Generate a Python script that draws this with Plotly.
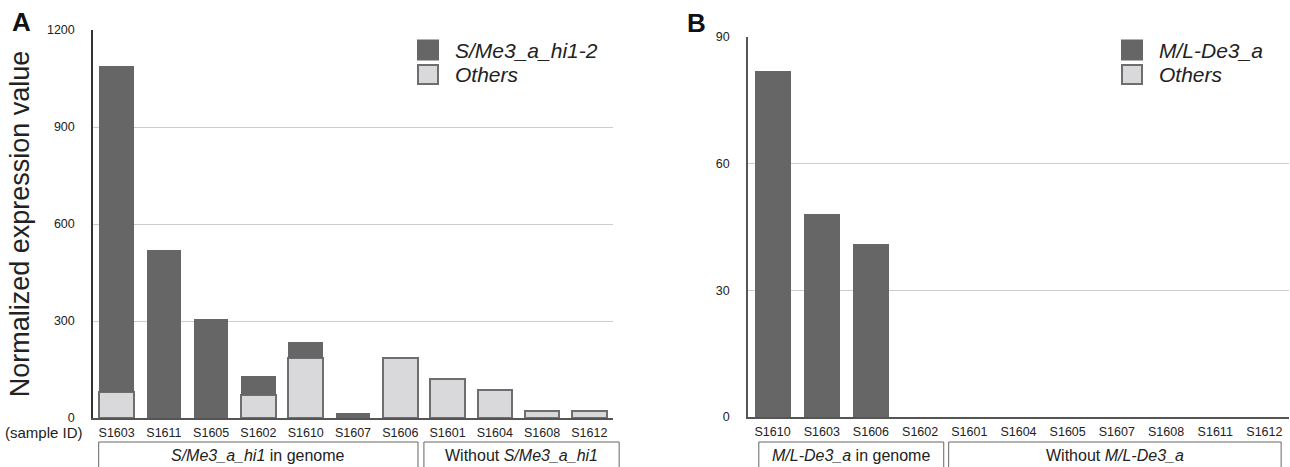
import plotly.graph_objects as go

# ---------------- data ----------------
samples_A = ["S1603", "S1611", "S1605", "S1602", "S1610", "S1607",
             "S1606", "S1601", "S1604", "S1608", "S1612"]
gene_A = [1010, 520, 306, 59, 49, 15, 0, 0, 0, 0, 0]      # S/Me3_a_hi1-2 portion
others_A = [80, 0, 0, 71, 186, 0, 185, 120, 86, 21, 21]   # Others portion

samples_B = ["S1610", "S1603", "S1606", "S1602", "S1601", "S1604",
             "S1605", "S1607", "S1608", "S1611", "S1612"]
gene_B = [82, 48, 41, 0, 0, 0, 0, 0, 0, 0, 0]              # M/L-De3_a
others_B = [0, 0, 0, 0, 0, 0, 0, 0, 0, 0, 0]

# groups: (label, first index, last index)
groups_A = [("<i>S/Me3_a_hi1</i> in genome", 0, 6), ("Without <i>S/Me3_a_hi1</i>", 7, 10)]
groups_B = [("<i>M/L-De3_a</i> in genome", 0, 2), ("Without <i>M/L-De3_a</i>", 3, 10)]

name_gene_A = "S/Me3_a_hi1-2"
name_gene_B = "M/L-De3_a"
name_others = "Others"
y_title = "Normalized expression value"

# ---------------- style ----------------
W, H = 1290, 467
FONT = "Liberation Sans, Arial, sans-serif"
DARK = "#666666"
LIGHT = "#d9d9db"
LIGHT_EDGE = "#6e6e6e"
GRID = "#cccccc"
TXT = "#222222"

def px(x):
    return x / W

def py(y):
    return 1 - y / H

def nz(values):
    # zero-height segments are not drawn
    return [v if v else None for v in values]

domA_x = [px(93), px(613)]
domA_y = [py(418), py(30)]
domB_x = [px(748), px(1289)]
domB_y = [py(417), py(36.7)]

fig = go.Figure()

fig.add_trace(go.Bar(x=samples_A, y=nz(others_A), name=name_others, xaxis="x", yaxis="y",
                     marker=dict(color=LIGHT, line=dict(color=LIGHT_EDGE, width=2)),
                     showlegend=False))
fig.add_trace(go.Bar(x=samples_A, y=nz(gene_A), name=name_gene_A, xaxis="x", yaxis="y",
                     marker=dict(color=DARK, line=dict(color=DARK, width=0)),
                     showlegend=False))
fig.add_trace(go.Bar(x=samples_B, y=nz(others_B), name=name_others, xaxis="x2", yaxis="y2",
                     marker=dict(color=LIGHT, line=dict(color=LIGHT_EDGE, width=2)),
                     showlegend=False))
fig.add_trace(go.Bar(x=samples_B, y=nz(gene_B), name=name_gene_B, xaxis="x2", yaxis="y2",
                     marker=dict(color=DARK, line=dict(color=DARK, width=0)),
                     showlegend=False))

common_x = dict(type="category", showline=True, linecolor="#555555", linewidth=2,
                ticks="", showgrid=False, tickfont=dict(family=FONT, size=12.5, color=TXT),
                ticklabelstandoff=2, fixedrange=True, automargin=False)
common_y = dict(showline=True, linewidth=1.5, ticks="", showgrid=True, gridcolor=GRID,
                gridwidth=1, zeroline=False, tickfont=dict(family=FONT, size=12.5, color=TXT),
                ticklabelstandoff=14, fixedrange=True, automargin=False)

fig.update_layout(
    width=W, height=H,
    margin=dict(l=0, r=0, t=0, b=0, pad=0),
    paper_bgcolor="white", plot_bgcolor="white",
    barmode="stack", bargap=0.27,
    font=dict(family=FONT, color=TXT),
    xaxis=dict(domain=domA_x, anchor="y", range=[-0.5, 10.5], **common_x),
    yaxis=dict(domain=domA_y, anchor="x", range=[0, 1200], dtick=300, linecolor="#333333",
               title=dict(text=y_title, font=dict(family=FONT, size=27, color=TXT), standoff=9),
               **common_y),
    xaxis2=dict(domain=domB_x, anchor="y2", range=[-0.5, 10.5], **common_x),
    yaxis2=dict(domain=domB_y, anchor="x2", range=[0, 90], dtick=30, linecolor="#555555",
                **common_y),
    showlegend=False,
)

# legends (drawn as keys + real text)
legend_rows = [
    (417, [(name_gene_A, DARK, DARK), (name_others, LIGHT, LIGHT_EDGE)]),
    (1121, [(name_gene_B, DARK, DARK), (name_others, LIGHT, LIGHT_EDGE)]),
]
row_y = [50, 74.5]
for x_key, items in legend_rows:
    for (label, fill, edge), yc in zip(items, row_y):
        fig.add_shape(type="rect", xref="paper", yref="paper",
                      x0=px(x_key + 1), x1=px(x_key + 21), y0=py(yc + 9.5), y1=py(yc - 9.5),
                      fillcolor=fill, line=dict(color=edge, width=2))
        fig.add_annotation(text="<i>" + label + "</i>", x=px(x_key + 36), y=py(yc),
                           xref="paper", yref="paper", xanchor="left", yanchor="middle",
                           showarrow=False, font=dict(family=FONT, size=21, color=TXT))

# panel letters and "(sample ID)"
fig.add_annotation(text="<b>A</b>", x=px(10), y=py(5), xref="paper", yref="paper",
                   xanchor="left", yanchor="top", showarrow=False,
                   font=dict(family=FONT, size=26, color="#111111"))
fig.add_annotation(text="<b>B</b>", x=px(685), y=py(6), xref="paper", yref="paper",
                   xanchor="left", yanchor="top", showarrow=False,
                   font=dict(family=FONT, size=26, color="#111111"))
fig.add_annotation(text="(sample ID)", x=px(43.5), y=py(432), xref="paper", yref="paper",
                   xanchor="center", yanchor="middle", showarrow=False,
                   font=dict(family=FONT, size=15, color=TXT))

# group boxes under the category axis
def cat_to_paper(dom, n, pos):
    return dom[0] + (pos + 0.5) / n * (dom[1] - dom[0])

box_top = py(442)
box_bottom = -0.05
box_text_y = py(455)
pads_A = [(-0.38, 0.375), (-0.5, 0.63)]
pads_B = [(-0.28, 1.48), (0.58, 0.34)]
for groups, dom, pads in ((groups_A, domA_x, pads_A), (groups_B, domB_x, pads_B)):
    n = 11
    for (label, i0, i1), (pl, pr) in zip(groups, pads):
        x0 = cat_to_paper(dom, n, i0 + pl)
        x1 = cat_to_paper(dom, n, i1 + pr)
        fig.add_shape(type="rect", xref="paper", yref="paper", x0=x0, x1=x1,
                      y0=box_bottom, y1=box_top, line=dict(color="#666666", width=1),
                      fillcolor="rgba(0,0,0,0)")
        fig.add_annotation(text=label, x=(x0 + x1) / 2, y=box_text_y, xref="paper",
                           yref="paper", xanchor="center", yanchor="middle", showarrow=False,
                           font=dict(family=FONT, size=16, color=TXT))

fig.write_html(
    "out.html",
    config={"displayModeBar": False},
    post_script="document.body.style.margin='0';document.body.style.overflow='hidden';",
)
